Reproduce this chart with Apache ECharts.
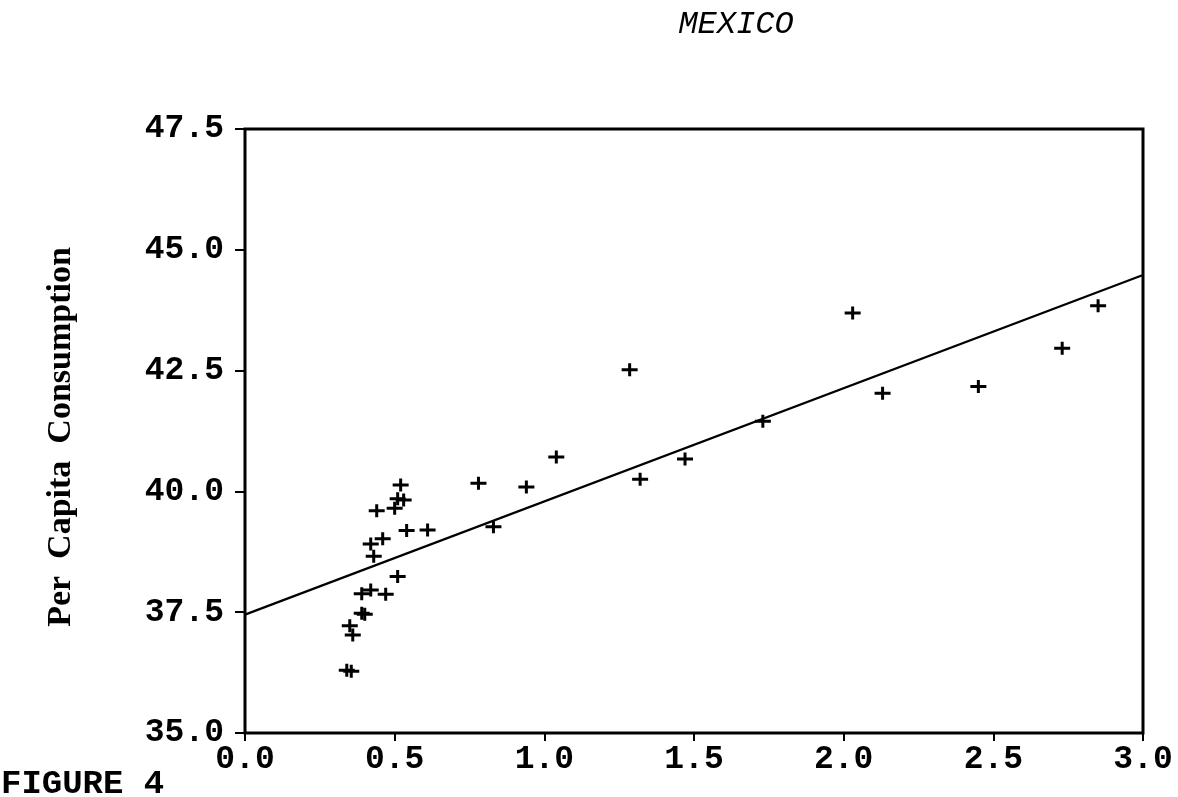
<!DOCTYPE html>
<html>
<head>
<meta charset="utf-8">
<script src="https://cdn.jsdelivr.net/npm/echarts@6/dist/echarts.min.js"></script>
<style>
  html, body { margin: 0; padding: 0; background: #fff; }
  #chart { width: 1178px; height: 797px; }
</style>
</head>
<body>
<div id="chart"></div>
<script>
// observed points (x, per capita consumption)
let pointX = [2.03, 1.73, 2.13, 2.45, 2.73, 2.85, 1.285, 1.04, 0.78, 0.94, 1.32, 1.47,
  0.83, 0.61, 0.52, 0.51, 0.53, 0.44, 0.50, 0.54, 0.46, 0.42, 0.43, 0.51,
  0.39, 0.42, 0.47, 0.39, 0.40, 0.35, 0.36, 0.34, 0.355]
let pointY = [43.69, 41.45, 42.03, 42.17, 42.96, 43.84, 42.52, 40.71, 40.17, 40.09, 40.25, 40.67,
  39.27, 39.20, 40.13, 39.85, 39.82, 39.60, 39.65, 39.19, 39.02, 38.91, 38.66, 38.24,
  37.88, 37.96, 37.87, 37.48, 37.46, 37.22, 37.03, 36.30, 36.28]
// fitted line end points
let lineX = [0, 3]
let lineY = [37.45, 44.48]
let xTicks = ['0.0', '0.5', '1.0', '1.5', '2.0', '2.5', '3.0']

let myChart = echarts.init(document.getElementById('chart'))
let option = {
  animation: false,
  graphic: [
    {
      type: 'text',
      x: 736,
      y: 25,
      style: {
        text: 'MEXICO', font: 'italic 32px "Liberation Mono"', fill: '#000',
        align: 'center', verticalAlign: 'middle'
      }
    },
    {
      type: 'text',
      x: 1,
      y: 784,
      style: {
        text: 'FIGURE 4', font: 'bold 34px "Liberation Mono"', fill: '#000',
        align: 'left', verticalAlign: 'middle'
      }
    },
    {
      type: 'text',
      x: 61,
      y: 437,
      rotation: Math.PI / 2,
      style: {
        text: 'Per  Capita  Consumption',
        font: 'bold 34px "Liberation Serif"',
        fill: '#000',
        align: 'center',
        verticalAlign: 'middle'
      }
    }
  ],
  grid: {
    left: 245, right: 35, top: 129, bottom: 64,
    show: true, borderColor: '#000', borderWidth: 3
  },
  xAxis: {
    type: 'value', min: 0, max: 3, interval: 0.5,
    axisLine: { show: false },
    axisTick: { show: true, length: 8, lineStyle: { color: '#000', width: 2 } },
    splitLine: { show: false },
    axisLabel: {
      margin: 10, color: '#000', fontSize: 33, fontWeight: 'bold', fontFamily: 'Liberation Mono',
      formatter: function (v) { return xTicks[Math.round(v * 2)] }
    }
  },
  yAxis: {
    type: 'value', min: 35, max: 47.5, interval: 2.5,
    axisLine: { show: false },
    axisTick: { show: true, length: 10, lineStyle: { color: '#000', width: 2 } },
    splitLine: { show: false },
    axisLabel: {
      margin: 21, color: '#000', fontSize: 33, fontWeight: 'bold', fontFamily: 'Liberation Mono',
      formatter: function (v) { return v.toFixed(1) }
    }
  },
  series: [
    {
      type: 'line',
      data: lineX.map((x, i) => [x, lineY[i]]),
      symbol: 'none',
      lineStyle: { color: '#000', width: 2.2 }
    },
    {
      type: 'scatter',
      data: pointX.map((x, i) => [x, pointY[i]]),
      symbol: 'path://M0,5H16V8H0Z M6.5,0H9.5V13H6.5Z',
      symbolSize: [16, 13],
      itemStyle: { color: '#000', opacity: 1 }
    }
  ]
}
myChart.setOption(option)
</script>
</body>
</html>
